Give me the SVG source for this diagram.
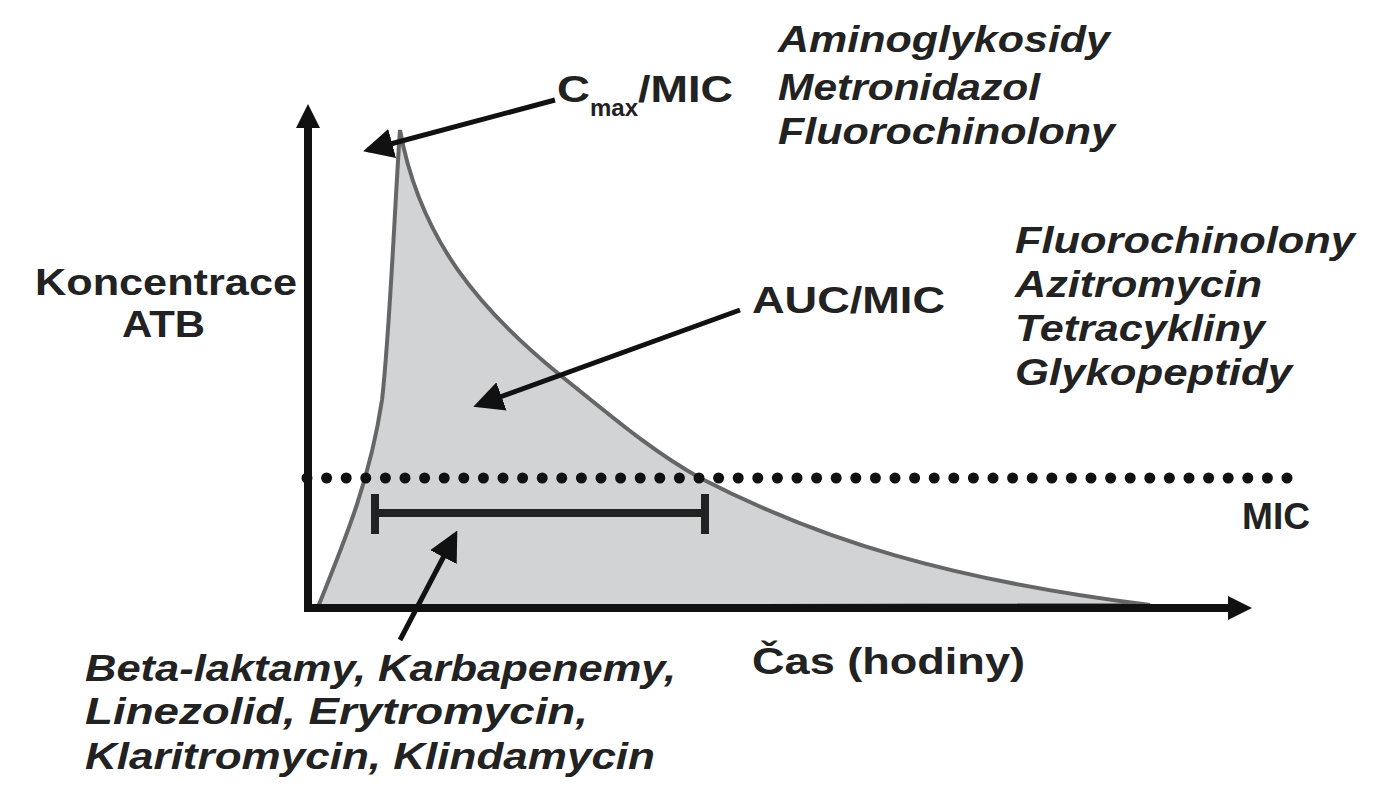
<svg xmlns="http://www.w3.org/2000/svg" width="1375" height="800" viewBox="0 0 1375 800">
<style>
text{font-family:"Liberation Sans",Arial,sans-serif;font-weight:bold;fill:#222;font-size:37px}
.i{font-style:italic}
.ar{stroke:#111;stroke-width:5;fill:none;marker-end:url(#a)}
</style>
<defs><marker id="a" markerWidth="6" markerHeight="6" refX="5" refY="3" orient="auto" markerUnits="strokeWidth"><path d="M0,0L6,3L0,6z" fill="#111"/></marker></defs>
<rect width="1375" height="800" fill="#fff"/>
<g id="curve"><path d="M318,607 C345,540 370,480 382,400 C390,330 395,200 400,130 C420,240 480,310 560,375 C610,415 650,450 700,478 C820,540 950,580 1150,605 Z" fill="#d2d3d5" stroke="#666" stroke-width="4"/></g>
<g id="axes"><line x1="308" y1="610" x2="308" y2="125" stroke="#111" stroke-width="8"/><path d="M296,128 L308,104 L320,128z" fill="#111"/>
<line x1="304" y1="608" x2="1230" y2="608" stroke="#111" stroke-width="8"/><path d="M1228,596 L1252,608 L1228,620z" fill="#111"/></g>
<g id="mic"><line x1="307" y1="478" x2="1300" y2="478" stroke="#111" stroke-width="11" stroke-linecap="round" stroke-dasharray="0 19.6"/></g>
<g id="bar"><path d="M375,513 H705 M375,494 V534 M705,494 V534" stroke="#222" stroke-width="8" fill="none"/></g>
<g id="connectors"><line class="ar" x1="555" y1="100" x2="368" y2="150"/><line class="ar" x1="740" y1="310" x2="478" y2="405"/><line class="ar" x1="400" y1="640" x2="455" y2="535"/></g>
<g id="labels" lengthAdjust="spacingAndGlyphs">
<text x="557" y="102"><tspan textLength="33" lengthAdjust="spacingAndGlyphs">C</tspan><tspan font-size="24" dy="14">max</tspan><tspan dy="-14" textLength="95" lengthAdjust="spacingAndGlyphs">/MIC</tspan></text>
<text class="i" x="778" y="52" textLength="332" lengthAdjust="spacingAndGlyphs">Aminoglykosidy</text>
<text class="i" x="778" y="100" textLength="262" lengthAdjust="spacingAndGlyphs">Metronidazol</text>
<text class="i" x="778" y="144" textLength="337" lengthAdjust="spacingAndGlyphs">Fluorochinolony</text>
<text class="i" x="1015" y="253" textLength="340" lengthAdjust="spacingAndGlyphs">Fluorochinolony</text>
<text class="i" x="1015" y="297" textLength="247" lengthAdjust="spacingAndGlyphs">Azitromycin</text>
<text class="i" x="1015" y="341" textLength="250" lengthAdjust="spacingAndGlyphs">Tetracykliny</text>
<text class="i" x="1015" y="385" textLength="277" lengthAdjust="spacingAndGlyphs">Glykopeptidy</text>
<text x="752" y="313" textLength="193" lengthAdjust="spacingAndGlyphs">AUC/MIC</text>
<text x="35" y="295" textLength="262" lengthAdjust="spacingAndGlyphs">Koncentrace</text>
<text x="122" y="337" textLength="83" lengthAdjust="spacingAndGlyphs">ATB</text>
<text x="1242" y="529" textLength="68" lengthAdjust="spacingAndGlyphs">MIC</text>
<text x="752" y="674" font-weight="normal" textLength="273" lengthAdjust="spacingAndGlyphs">Čas (hodiny)</text>
<text class="i" x="85" y="681" textLength="591" lengthAdjust="spacingAndGlyphs">Beta-laktamy, Karbapenemy,</text>
<text class="i" x="85" y="724" textLength="503" lengthAdjust="spacingAndGlyphs">Linezolid, Erytromycin,</text>
<text class="i" x="85" y="769" textLength="570" lengthAdjust="spacingAndGlyphs">Klaritromycin, Klindamycin</text>
</g>
</svg>
